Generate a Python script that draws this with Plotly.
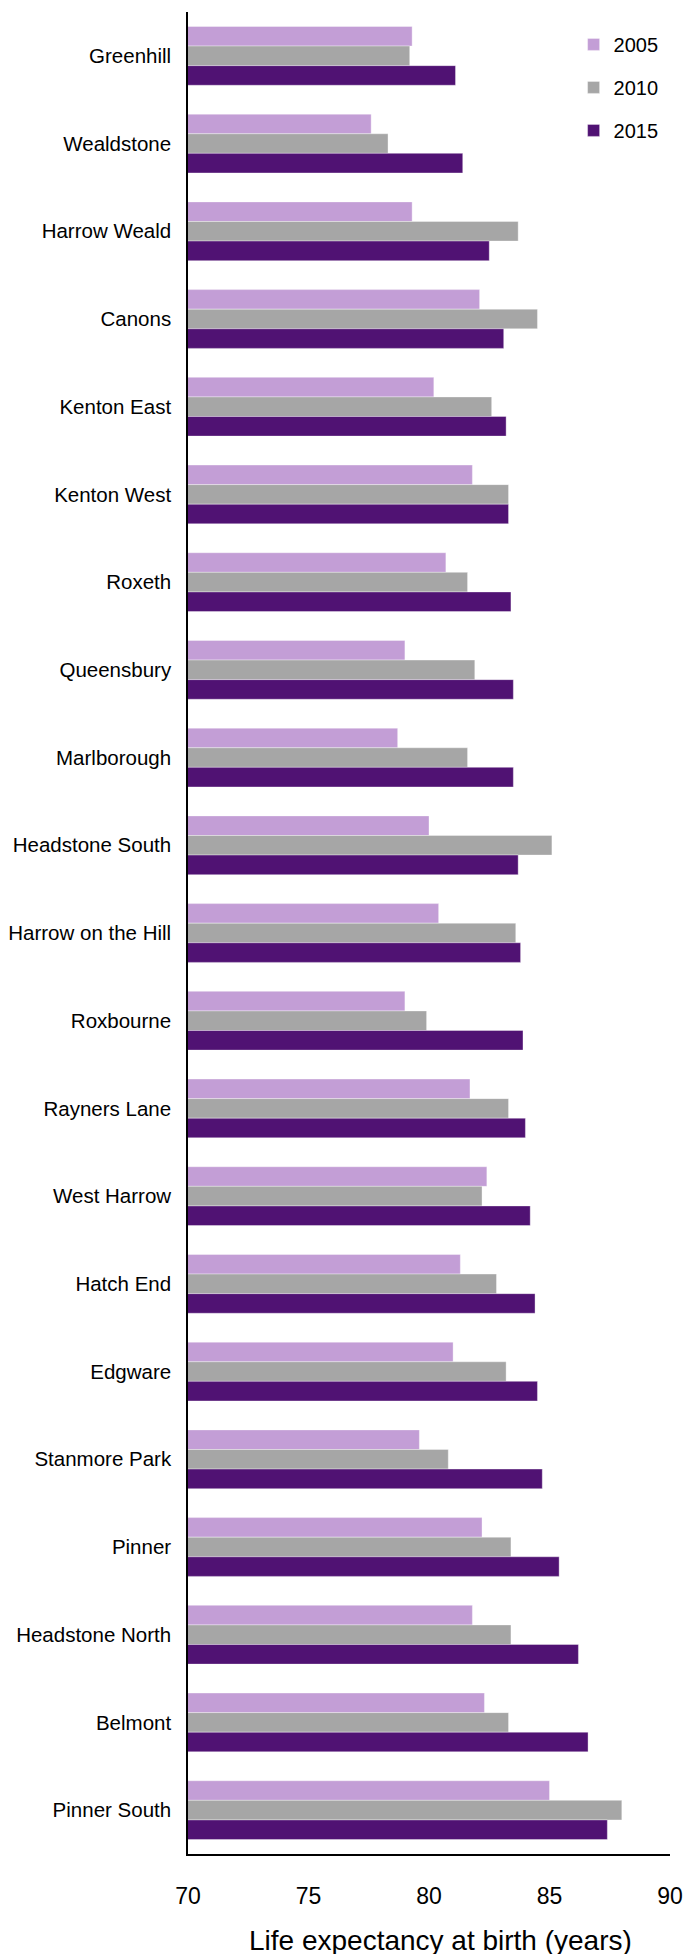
import plotly.graph_objects as go

# Harrow wards, top to bottom
wards = [
    "Greenhill", "Wealdstone", "Harrow Weald", "Canons", "Kenton East",
    "Kenton West", "Roxeth", "Queensbury", "Marlborough", "Headstone South",
    "Harrow on the Hill", "Roxbourne", "Rayners Lane", "West Harrow",
    "Hatch End", "Edgware", "Stanmore Park", "Pinner", "Headstone North",
    "Belmont", "Pinner South",
]

# Life expectancy at birth (years)
le_2005 = [79.3, 77.6, 79.3, 82.1, 80.2, 81.8, 80.7, 79.0, 78.7, 80.0,
           80.4, 79.0, 81.7, 82.4, 81.3, 81.0, 79.6, 82.2, 81.8, 82.3, 85.0]
le_2010 = [79.2, 78.3, 83.7, 84.5, 82.6, 83.3, 81.6, 81.9, 81.6, 85.1,
           83.6, 79.9, 83.3, 82.2, 82.8, 83.2, 80.8, 83.4, 83.4, 83.3, 88.0]
le_2015 = [81.1, 81.4, 82.5, 83.1, 83.2, 83.3, 83.4, 83.5, 83.5, 83.7,
           83.8, 83.9, 84.0, 84.2, 84.4, 84.5, 84.7, 85.4, 86.2, 86.6, 87.4]

series = [("2005", le_2005, "#C39ED6"),
          ("2010", le_2010, "#A6A6A6"),
          ("2015", le_2015, "#501273")]

x_ticks = [70, 75, 80, 85, 90]

FONT = "Liberation Sans, Arial, sans-serif"

fig = go.Figure()
for name, vals, color in series:
    fig.add_trace(go.Bar(
        y=wards, x=vals, name=name, orientation="h",
        marker=dict(color=color, line=dict(color="rgba(255,255,255,0.6)", width=0.6)),
        legendgroup=name,
    ))

fig.update_layout(
    width=685, height=1954,
    margin=dict(l=188, r=15, t=12, b=100),
    paper_bgcolor="white", plot_bgcolor="white",
    barmode="group", bargap=0.33, bargroupgap=0,
    legend=dict(
        x=0.80, y=0.993, xanchor="left", yanchor="top",
        font=dict(family=FONT, size=20, color="#000000"),
        tracegroupgap=14, bgcolor="rgba(0,0,0,0)",
    ),
    showlegend=True,
)

# x-axis title placed below the tick labels
fig.add_annotation(
    text="Life expectancy at birth (years)",
    xref="paper", yref="paper", x=0.523, y=-0.0468,
    xanchor="center", yanchor="middle", showarrow=False,
    font=dict(family=FONT, size=28, color="#000000"),
)

fig.update_xaxes(
    range=[70, 90], tickvals=x_ticks, ticktext=[str(t) for t in x_ticks],
    showgrid=False, zeroline=False, automargin=False,
    showline=True, linecolor="#000000", linewidth=2,
    ticks="", ticklabelstandoff=20,
    tickfont=dict(family=FONT, size=23, color="#000000"),
)
fig.update_yaxes(
    autorange="reversed", showgrid=False, zeroline=False, automargin=False,
    showline=True, linecolor="#000000", linewidth=1.5,
    ticks="", ticklabelstandoff=11,
    tickfont=dict(family=FONT, size=20.5, color="#000000"),
)

fig.write_html("out.html")
